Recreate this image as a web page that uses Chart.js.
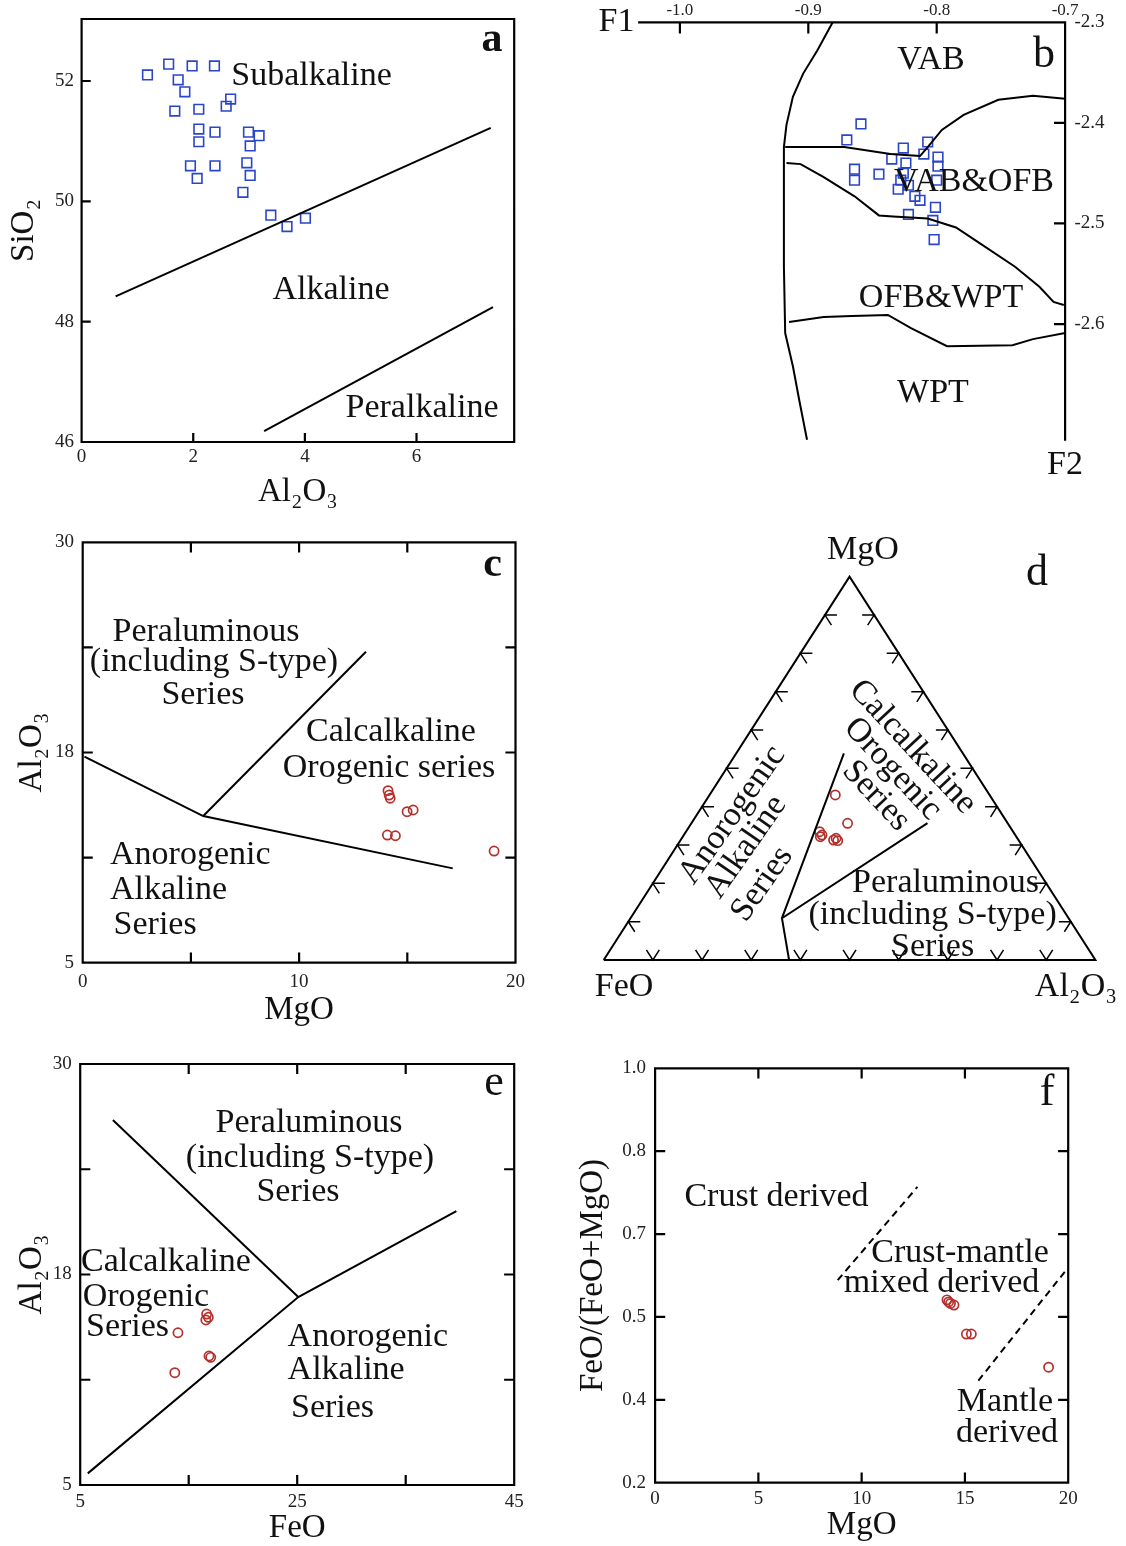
<!DOCTYPE html>
<html>
<head>
<meta charset="utf-8">
<script src="https://cdn.jsdelivr.net/npm/chart.js@4/dist/chart.umd.min.js"></script>
<style>
    body { margin: 0; background: #fff; width: 1126px; height: 1546px; position: relative; overflow: hidden; }
    canvas { position: absolute; }
</style>
</head>
<body>
<canvas id="chartA" width="560" height="510" style="left:0;top:0"></canvas>
<canvas id="chartB" width="546" height="500" style="left:580px;top:0"></canvas>
<canvas id="chartC" width="560" height="510" style="left:0;top:520px"></canvas>
<canvas id="chartD" width="546" height="510" style="left:580px;top:520px"></canvas>
<canvas id="chartE" width="560" height="506" style="left:0;top:1040px"></canvas>
<canvas id="chartF" width="556" height="506" style="left:570px;top:1040px"></canvas>
<script>
/* ======================
   DATA
====================== */
// a : SiO2 - Al2O3
const aAl2O3 = [1.18, 1.56, 1.73, 1.98, 2.38, 1.85, 1.67, 2.10, 2.59, 2.67, 2.10, 2.10, 2.39, 2.99, 3.18, 3.02, 1.95, 2.07, 2.39, 2.96, 3.02, 2.89, 3.39, 3.68, 4.01];
const aSiO2 = [52.10, 52.28, 52.02, 52.25, 52.25, 51.82, 51.50, 51.53, 51.58, 51.70, 51.20, 50.99, 51.15, 51.15, 51.09, 50.92, 50.59, 50.38, 50.59, 50.64, 50.43, 50.15, 49.77, 49.58, 49.72];
const aXTicks = [0, 2, 4, 6];
const aYTicks = [46, 48, 50, 52];
const aLineUpper = [[0.61, 48.42], [7.33, 51.22]];
const aLineLower = [[3.27, 46.18], [7.37, 48.24]];

// b : F1 - F2
const bF1 = [-0.859, -0.870, -0.807, -0.826, -0.810, -0.835, -0.824, -0.799, -0.799, -0.864, -0.864, -0.845, -0.800, -0.830, -0.822, -0.817, -0.813, -0.801, -0.822, -0.803, -0.802, -0.826, -0.828];
const bF2 = [-2.401, -2.417, -2.419, -2.425, -2.431, -2.436, -2.440, -2.434, -2.443, -2.446, -2.457, -2.451, -2.457, -2.466, -2.462, -2.473, -2.477, -2.484, -2.491, -2.497, -2.516, -2.450, -2.457];
const bXTicks = [-1.0, -0.9, -0.8, -0.7];
const bYTicks = [-2.6, -2.5, -2.4, -2.3];
const bLeftCurve = [[-0.881, -2.300], [-0.893, -2.328], [-0.904, -2.351], [-0.912, -2.374], [-0.917, -2.402], [-0.919, -2.424], [-0.919, -2.543], [-0.918, -2.609], [-0.912, -2.642], [-0.907, -2.676], [-0.901, -2.715]];
const bVabLine = [[-0.700, -2.376], [-0.725, -2.373], [-0.752, -2.377], [-0.779, -2.392], [-0.796, -2.407], [-0.807, -2.424], [-0.813, -2.433], [-0.836, -2.431], [-0.872, -2.424], [-0.918, -2.424]];
const bOfbLine = [[-0.917, -2.440], [-0.906, -2.441], [-0.888, -2.454], [-0.864, -2.473], [-0.845, -2.492], [-0.834, -2.493], [-0.807, -2.495], [-0.785, -2.504], [-0.766, -2.520], [-0.739, -2.543], [-0.720, -2.563], [-0.709, -2.578], [-0.701, -2.581]];
const bWptLine = [[-0.915, -2.598], [-0.888, -2.593], [-0.866, -2.592], [-0.838, -2.591], [-0.820, -2.604], [-0.792, -2.622], [-0.741, -2.621], [-0.725, -2.615], [-0.700, -2.609]];

// c : Al2O3 - MgO
const cMgO = [14.11, 14.16, 14.21, 14.99, 15.27, 14.08, 14.45, 19.01];
const cAl2O3 = [15.23, 14.97, 14.78, 13.98, 14.08, 12.59, 12.55, 11.64];
const cXTicks = [0, 5, 10, 15, 20];
const cXLabels = ['0', '', '10', '', '20'];
const cYLabels = ['5', '', '18', '', '30'];
const cLineLower = [[0.08, 17.25], [5.57, 13.72], [17.10, 10.61]];
const cLineUpper = [[5.57, 13.72], [13.09, 23.49]];

// d : FeO - MgO - Al2O3 ternary (FeO, MgO, Al2O3 in %)
const dFeO = [31.4, 32.6, 39.4, 39.3, 37.6, 36.8, 36.9, 39.9];
const dMgO = [43.1, 35.7, 33.5, 32.6, 31.3, 31.1, 31.8, 32.2];
const dAl2O3 = [25.6, 31.8, 27.2, 28.1, 31.1, 32.0, 31.4, 28.0];
const dLineA = [[62.3, 0, 37.7], [58.3, 10.9, 30.8], [24.2, 53.9, 21.9]];
const dLineB = [[58.3, 10.9, 30.8], [16.3, 35.7, 48.0]];

// e : Al2O3 - FeO
const eFeO = [14.01, 13.72, 16.65, 16.81, 16.58, 16.87, 17.03];
const eAl2O3 = [14.04, 11.67, 15.15, 14.96, 14.80, 12.66, 12.58];
const eXTicks = [5, 15, 25, 35, 45];
const eXLabels = ['5', '', '25', '', '45'];
const eYLabels = ['5', '', '18', '', '30'];
const eLineUpper = [[8.01, 26.67], [25.1, 16.16]];
const eLineLower = [[5.70, 5.69], [25.1, 16.16], [39.67, 21.27]];

// f : FeO/(FeO+MgO) - MgO
const fMgO = [14.13, 14.21, 14.30, 14.47, 15.07, 15.31, 19.05];
const fRatio = [0.553, 0.549, 0.546, 0.543, 0.487, 0.487, 0.423];
const fXTicks = [0, 5, 10, 15, 20];
const fYLabels = ['0.2', '0.4', '0.5', '0.7', '0.8', '1.0'];
const fDashUpper = [[8.84, 0.591], [12.70, 0.771]];
const fDashLower = [[15.65, 0.397], [19.91, 0.611]];

/* ======================
   HELPERS
====================== */
const SERIF = "'Liberation Serif', 'DejaVu Serif', serif";
const BLUE = "#2a45c8";
const RED = "#b3302c";

const pts = (xs, ys) => xs.map((x, i) => ({ x: x, y: ys[i] }));
const pairs = list => list.map(p => ({ x: p[0], y: p[1] }));
const evenTicks = (min, max, n) => Array.from({ length: n }, (_, i) => min + i * (max - min) / (n - 1));

function tern(f, m, a) {
    const s = f + m + a;
    return { x: (a + m / 2) / s, y: m / s };
}

function lineSet(data, dash) {
    return {
        data: data, showLine: true, borderColor: "#000", borderWidth: 2,
        borderDash: dash || [], pointRadius: 0, clip: false, fill: false
    };
}
function squares(data) {
    return {
        data: data, pointStyle: "rect", pointRadius: 6.8, pointBorderWidth: 1.6,
        borderColor: BLUE, backgroundColor: "rgba(0,0,0,0)", clip: false
    };
}
function rings(data) {
    return {
        data: data, pointStyle: "circle", pointRadius: 4.6, pointBorderWidth: 1.7,
        borderColor: RED, backgroundColor: "rgba(0,0,0,0)", clip: false
    };
}

function axis(o) {
    return {
        type: "linear", position: o.pos, min: o.min, max: o.max,
        afterBuildTicks: s => { s.ticks = o.ticks.map(v => ({ value: v })); },
        afterFit: s => { if (s.isHorizontal()) s.height = o.size; else s.width = o.size; },
        grid: { display: false, drawTicks: false },
        border: { display: false },
        ticks: {
            font: { family: SERIF, size: o.fontSize || 19 }, color: "#222",
            padding: o.pad, autoSkip: false, maxRotation: 0, callback: o.label
        },
        title: o.title ? {
            display: true, text: o.title, color: "#111",
            font: { family: SERIF, size: 33, lineHeight: 1 }, padding: o.titlePad
        } : { display: false }
    };
}

// box frame + inward ticks
function frame(sides, tickSides, len) {
    return {
        id: "frame",
        afterDatasetsDraw(chart) {
            const { ctx, chartArea: a, scales: { x, y } } = chart;
            const inner = s => s.ticks.map(t => t.value).filter(v => v > s.min + 1e-9 && v < s.max - 1e-9);
            ctx.save();
            ctx.strokeStyle = "#000";
            ctx.lineWidth = 2.2;
            ctx.lineCap = "square";
            ctx.beginPath();
            if (sides.includes("top")) { ctx.moveTo(a.left, a.top); ctx.lineTo(a.right, a.top); }
            if (sides.includes("bottom")) { ctx.moveTo(a.left, a.bottom); ctx.lineTo(a.right, a.bottom); }
            if (sides.includes("left")) { ctx.moveTo(a.left, a.top); ctx.lineTo(a.left, a.bottom); }
            if (sides.includes("right")) { ctx.moveTo(a.right, a.top); ctx.lineTo(a.right, a.bottom); }
            inner(x).forEach(v => {
                const px = x.getPixelForValue(v);
                if (tickSides.includes("bottom")) { ctx.moveTo(px, a.bottom); ctx.lineTo(px, a.bottom - len); }
                if (tickSides.includes("top")) { ctx.moveTo(px, a.top); ctx.lineTo(px, a.top + len); }
            });
            inner(y).forEach(v => {
                const py = y.getPixelForValue(v);
                if (tickSides.includes("left")) { ctx.moveTo(a.left, py); ctx.lineTo(a.left + len, py); }
                if (tickSides.includes("right")) { ctx.moveTo(a.right, py); ctx.lineTo(a.right - len, py); }
            });
            ctx.stroke();
            ctx.restore();
        }
    };
}

// free text, page coordinates
function notes(items, ox, oy) {
    return {
        id: "notes",
        afterDraw(chart) {
            const ctx = chart.ctx;
            items.forEach(n => {
                ctx.save();
                ctx.font = (n.bold ? "bold " : "") + (n.size || 34) + "px " + SERIF;
                ctx.fillStyle = "#111";
                ctx.textAlign = n.align || "center";
                ctx.textBaseline = "middle";
                ctx.translate(n.x - ox, n.y - oy);
                if (n.rot) ctx.rotate(n.rot * Math.PI / 180);
                ctx.fillText(n.t, 0, 0);
                ctx.restore();
            });
        }
    };
}

// chevron ticks along the triangle sides
const ternTicks = {
    id: "ternTicks",
    afterDatasetsDraw(chart) {
        const { ctx, scales: { x, y } } = chart;
        const P = p => ({ x: x.getPixelForValue(p.x), y: y.getPixelForValue(p.y) });
        const F = P(tern(1, 0, 0)), M = P(tern(0, 1, 0)), A = P(tern(0, 0, 1));
        const unit = (p, q) => { const dx = q.x - p.x, dy = q.y - p.y, l = Math.hypot(dx, dy); return { x: dx / l, y: dy / l }; };
        const edges = [[F, A, unit(F, M), unit(A, M)], [F, M, unit(F, A), unit(M, A)], [A, M, unit(A, F), unit(M, F)]];
        const L = 12;
        ctx.save();
        ctx.strokeStyle = "#000";
        ctx.lineWidth = 1.5;
        ctx.beginPath();
        edges.forEach(([p, q, u1, u2]) => {
            for (let k = 1; k < 10; k++) {
                const vx = p.x + (q.x - p.x) * k / 10, vy = p.y + (q.y - p.y) * k / 10;
                ctx.moveTo(vx + u1.x * L, vy + u1.y * L);
                ctx.lineTo(vx, vy);
                ctx.lineTo(vx + u2.x * L, vy + u2.y * L);
            }
        });
        ctx.stroke();
        ctx.restore();
    }
};

function makeChart(id, datasets, scales, padding, plugins) {
    return new Chart(document.getElementById(id), {
        type: "scatter",
        data: { datasets: datasets },
        options: {
            responsive: false, maintainAspectRatio: false, animation: false, events: [],
            layout: { padding: padding },
            plugins: { legend: { display: false }, tooltip: { enabled: false } },
            scales: scales
        },
        plugins: plugins
    });
}

/* ======================
   PANEL a
====================== */
makeChart("chartA",
    [lineSet(pairs(aLineUpper)), lineSet(pairs(aLineLower)), squares(pts(aAl2O3, aSiO2))],
    {
        x: axis({ pos: "bottom", min: 0, max: 7.75, ticks: aXTicks, size: 68, pad: 4, label: v => String(v), title: "Al₂O₃", titlePad: { top: 0, bottom: 1.5 } }),
        y: axis({ pos: "left", min: 46, max: 53.03, ticks: aYTicks, size: 81.6, pad: 7.6, label: v => String(v), title: "SiO₂", titlePad: { top: 7.5, bottom: 0 } })
    },
    { top: 19, right: 45.8, left: 0, bottom: 0 },
    [frame(["top", "bottom", "left", "right"], ["left", "bottom"], 8),
     notes([
        { t: "Subalkaline", x: 311.5, y: 76 },
        { t: "Alkaline", x: 331, y: 290 },
        { t: "Peralkaline", x: 422, y: 408 },
        { t: "a", x: 492, y: 40, size: 42, bold: true }
     ], 0, 0)]
);

/* ======================
   PANEL b
====================== */
makeChart("chartB",
    [lineSet(pairs(bLeftCurve)), lineSet(pairs(bVabLine)), lineSet(pairs(bOfbLine)), lineSet(pairs(bWptLine)), squares(pts(bF1, bF2))],
    {
        x: axis({ pos: "top", min: -1.0317, max: -0.7, ticks: bXTicks, size: 22.3, pad: 2, fontSize: 17, label: v => v.toFixed(1) }),
        y: axis({ pos: "right", min: -2.715, max: -2.3, ticks: bYTicks, size: 60.9, pad: 9.4, label: v => v.toFixed(1) })
    },
    { top: 0, right: 0, left: 59.2, bottom: 60.3 },
    [frame(["top", "right"], ["top", "right"], 10),
     notes([
        { t: "F1", x: 616.5, y: 22 },
        { t: "F2", x: 1065, y: 465 },
        { t: "VAB", x: 931, y: 60 },
        { t: "b", x: 1044, y: 55, size: 44 },
        { t: "VAB&OFB", x: 974, y: 182 },
        { t: "OFB&WPT", x: 941, y: 298 },
        { t: "WPT", x: 933, y: 393 }
     ], 580, 0)]
);

/* ======================
   PANEL c
====================== */
makeChart("chartC",
    [lineSet(pairs(cLineLower)), lineSet(pairs(cLineUpper)), rings(pts(cMgO, cAl2O3))],
    {
        x: axis({ pos: "bottom", min: 0, max: 20, ticks: cXTicks, size: 67.3, pad: 8, label: (v, i) => cXLabels[i], title: "MgO", titlePad: { top: 0, bottom: 3.5 } }),
        y: axis({ pos: "left", min: 5, max: 30, ticks: evenTicks(5, 30, cYLabels.length), size: 82.7, pad: 8.7, label: (v, i) => cYLabels[i], title: "Al₂O₃", titlePad: { top: 16.2, bottom: 0 } })
    },
    { top: 22.3, right: 44.5, left: 0, bottom: 0 },
    [frame(["top", "bottom", "left", "right"], ["top", "bottom", "left", "right"], 9),
     notes([
        { t: "Peraluminous", x: 206, y: 632 },
        { t: "(including S-type)", x: 214, y: 662 },
        { t: "Series", x: 203, y: 695 },
        { t: "Calcalkaline", x: 391, y: 732 },
        { t: "Orogenic series", x: 389, y: 768 },
        { t: "Anorogenic", x: 110, y: 855, align: "left" },
        { t: "Alkaline", x: 110, y: 890, align: "left" },
        { t: "Series", x: 113.6, y: 925, align: "left" },
        { t: "c", x: 492.5, y: 565, size: 42, bold: true }
     ], 0, 520)]
);

/* ======================
   PANEL d (ternary)
====================== */
const dTriangle = [tern(100, 0, 0), tern(0, 100, 0), tern(0, 0, 100), tern(100, 0, 0)];
makeChart("chartD",
    [lineSet(dTriangle), lineSet(dLineA.map(p => tern(p[0], p[1], p[2]))), lineSet(dLineB.map(p => tern(p[0], p[1], p[2]))),
     rings(dFeO.map((f, i) => tern(f, dMgO[i], dAl2O3[i])))],
    {
        x: { type: "linear", display: false, min: 0, max: 1 },
        y: { type: "linear", display: false, min: 0, max: 1 }
    },
    { top: 56.7, right: 30.6, left: 23.7, bottom: 70 },
    [ternTicks,
     notes([
        { t: "MgO", x: 863, y: 550 },
        { t: "d", x: 1037, y: 573, size: 44 },
        { t: "FeO", x: 624, y: 987 },
        { t: "Al₂O₃", x: 1076, y: 987 },
        { t: "Peraluminous", x: 945.6, y: 883 },
        { t: "(including S-type)", x: 932.6, y: 915 },
        { t: "Series", x: 932.6, y: 947 },
        { t: "Anorogenic", x: 732.3, y: 815, rot: -55 },
        { t: "Alkaline", x: 746, y: 847, rot: -55 },
        { t: "Series", x: 762.3, y: 884, rot: -55 },
        { t: "Calcalkaline", x: 912.7, y: 747, rot: 47 },
        { t: "Orogenic", x: 892.7, y: 769, rot: 47 },
        { t: "Series", x: 876, y: 796, rot: 47 }
     ], 580, 520)]
);

/* ======================
   PANEL e
====================== */
makeChart("chartE",
    [lineSet(pairs(eLineUpper)), lineSet(pairs(eLineLower)), rings(pts(eFeO, eAl2O3))],
    {
        x: axis({ pos: "bottom", min: 5, max: 45, ticks: eXTicks, size: 61, pad: 6, label: (v, i) => eXLabels[i], title: "FeO", titlePad: { top: 0, bottom: 1.5 } }),
        y: axis({ pos: "left", min: 5, max: 30, ticks: evenTicks(5, 30, eYLabels.length), size: 80.2, pad: 8.5, label: (v, i) => eYLabels[i], title: "Al₂O₃", titlePad: { top: 16.2, bottom: 0 } })
    },
    { top: 24, right: 45.8, left: 0, bottom: 0 },
    [frame(["top", "bottom", "left", "right"], ["top", "bottom", "left", "right"], 9),
     notes([
        { t: "Peraluminous", x: 309, y: 1123 },
        { t: "(including S-type)", x: 310, y: 1158 },
        { t: "Series", x: 298, y: 1192 },
        { t: "Calcalkaline", x: 81, y: 1262, align: "left" },
        { t: "Orogenic", x: 82.7, y: 1297, align: "left" },
        { t: "Series", x: 86, y: 1327, align: "left" },
        { t: "Anorogenic", x: 287.6, y: 1337, align: "left" },
        { t: "Alkaline", x: 287.6, y: 1370, align: "left" },
        { t: "Series", x: 291, y: 1408, align: "left" },
        { t: "e", x: 494, y: 1083, size: 44 }
     ], 0, 1040)]
);

/* ======================
   PANEL f
====================== */
makeChart("chartF",
    [lineSet(pairs(fDashUpper), [7, 5]), lineSet(pairs(fDashLower), [7, 5]), rings(pts(fMgO, fRatio))],
    {
        x: axis({ pos: "bottom", min: 0, max: 20, ticks: fXTicks, size: 63.3, pad: 4.5, label: v => String(v), title: "MgO", titlePad: { top: 0, bottom: 4.5 } }),
        y: axis({ pos: "left", min: 0.2, max: 1.0, ticks: evenTicks(0.2, 1.0, fYLabels.length), size: 85.1, pad: 9, label: (v, i) => fYLabels[i], title: "FeO/(FeO+MgO)", titlePad: { top: 6.5, bottom: 0 } })
    },
    { top: 28.3, right: 57.8, left: 0, bottom: 0 },
    [frame(["top", "bottom", "left", "right"], ["top", "bottom", "left", "right"], 9),
     notes([
        { t: "Crust derived", x: 776.5, y: 1197 },
        { t: "Crust-mantle", x: 960, y: 1253 },
        { t: "mixed derived", x: 941.5, y: 1283 },
        { t: "Mantle", x: 1005, y: 1402 },
        { t: "derived", x: 1007, y: 1433 },
        { t: "f", x: 1047, y: 1093, size: 44 }
     ], 570, 1040)]
);
</script>
</body>
</html>
